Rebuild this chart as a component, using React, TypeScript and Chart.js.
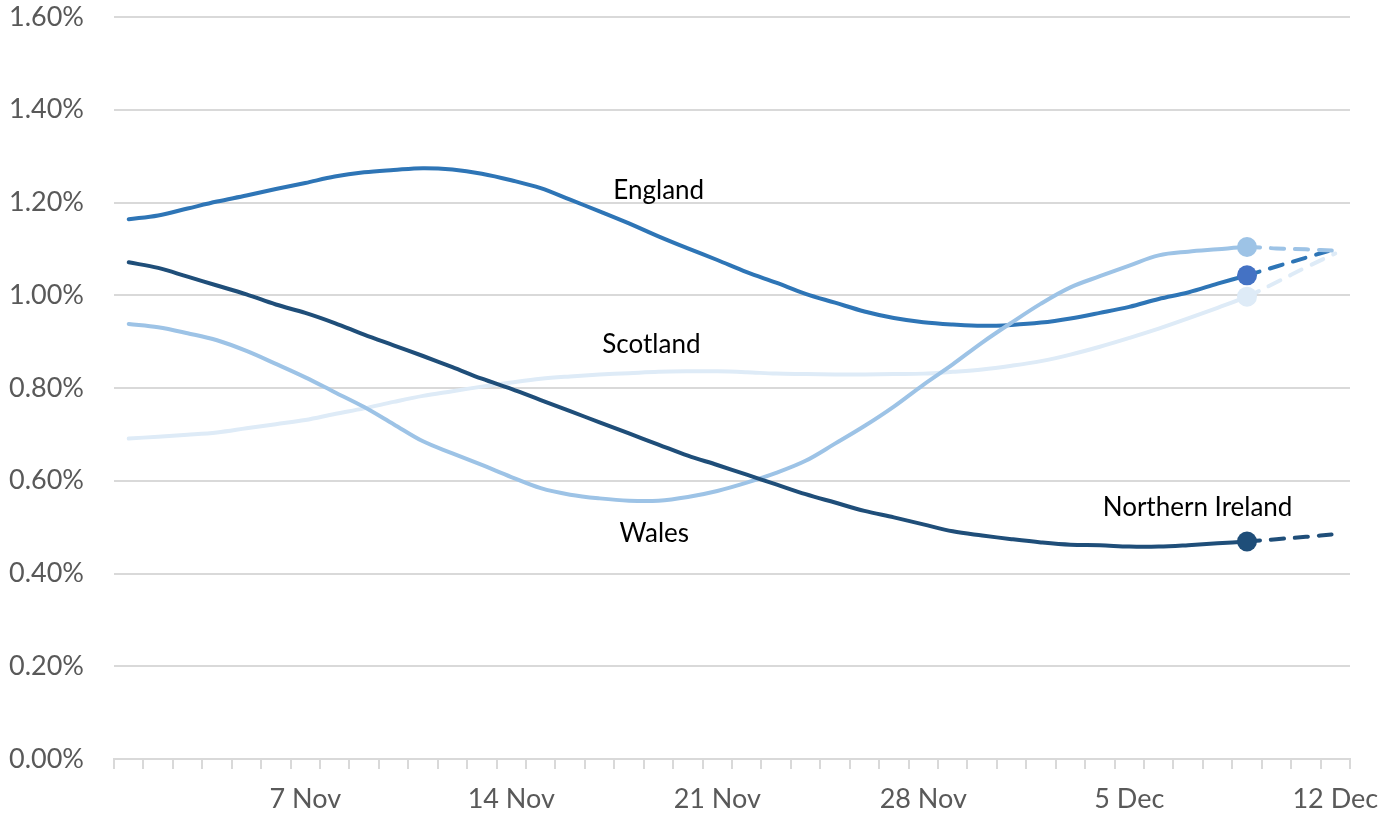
import React, { useEffect, useRef } from "react";
import { Chart, registerables } from "chart.js";

Chart.register(...registerables);

// ---- Data ----
const categories = [
  "1 Nov", "2 Nov", "3 Nov", "4 Nov", "5 Nov", "6 Nov", "7 Nov", "8 Nov", "9 Nov", "10 Nov",
  "11 Nov", "12 Nov", "13 Nov", "14 Nov", "15 Nov", "16 Nov", "17 Nov", "18 Nov", "19 Nov", "20 Nov",
  "21 Nov", "22 Nov", "23 Nov", "24 Nov", "25 Nov", "26 Nov", "27 Nov", "28 Nov", "29 Nov", "30 Nov",
  "1 Dec", "2 Dec", "3 Dec", "4 Dec", "5 Dec", "6 Dec", "7 Dec", "8 Dec", "9 Dec", "10 Dec",
  "11 Dec", "12 Dec",
];
const shownTickLabels = ["7 Nov", "14 Nov", "21 Nov", "28 Nov", "5 Dec", "12 Dec"];
const lastObservedIndex = 38; // after this the lines are dashed projections

const england = [
  1.164, 1.172, 1.187, 1.202, 1.215, 1.229, 1.242, 1.256, 1.265, 1.270,
  1.274, 1.271, 1.262, 1.248, 1.231, 1.206, 1.181, 1.155, 1.127, 1.101,
  1.076, 1.050, 1.027, 1.003, 0.984, 0.965, 0.951, 0.942, 0.937, 0.934,
  0.936, 0.941, 0.950, 0.962, 0.975, 0.992, 1.006, 1.025, 1.043, 1.062,
  1.081, 1.100,
];
const wales = [
  0.938, 0.931, 0.918, 0.903, 0.880, 0.852, 0.823, 0.791, 0.759, 0.722,
  0.685, 0.659, 0.634, 0.608, 0.584, 0.570, 0.562, 0.557, 0.557, 0.565,
  0.578, 0.596, 0.617, 0.643, 0.680, 0.718, 0.760, 0.807, 0.851, 0.898,
  0.941, 0.982, 1.017, 1.041, 1.064, 1.086, 1.094, 1.099, 1.104, 1.101,
  1.099, 1.096,
];
const scotland = [
  0.691, 0.695, 0.699, 0.704, 0.713, 0.722, 0.731, 0.744, 0.756, 0.770,
  0.783, 0.793, 0.803, 0.812, 0.820, 0.825, 0.829, 0.832, 0.835, 0.836,
  0.836, 0.834, 0.831, 0.830, 0.829, 0.829, 0.830, 0.831, 0.835, 0.840,
  0.848, 0.858, 0.872, 0.889, 0.908, 0.928, 0.950, 0.973, 0.997, 1.028,
  1.060, 1.090,
];
const northernIreland = [
  1.071, 1.059, 1.040, 1.021, 1.002, 0.980, 0.962, 0.940, 0.915, 0.892,
  0.869, 0.845, 0.820, 0.798, 0.774, 0.750, 0.726, 0.702, 0.678, 0.654,
  0.634, 0.613, 0.592, 0.571, 0.553, 0.535, 0.521, 0.506, 0.491, 0.482,
  0.474, 0.467, 0.462, 0.461, 0.458, 0.458, 0.461, 0.465, 0.469, 0.474,
  0.479, 0.485,
];

const seriesNames = ["England", "Wales", "Scotland", "Northern Ireland"];
const seriesColors = ["#2E75B6", "#9DC3E6", "#DEEBF7", "#1F4E79"];
const pointColors = ["#4472C4", "#9DC3E6", "#DEEBF7", "#1F4E79"];
const seriesOrder = [3, 2, 4, 1];

// in-chart series labels (category position, value)
const labelTexts = ["England", "Scotland", "Wales", "Northern Ireland"];
const labelCategory = [18.01, 17.76, 17.86, 36.32];
const labelValue = [1.225, 0.894, 0.487, 0.542];

const yMin = 0;
const yMax = 1.6;
const yStep = 0.2;

const FONT = "Lato, 'Open Sans', sans-serif";

const seriesLabelPlugin = {
  id: "seriesLabels",
  afterDatasetsDraw(chart: any) {
    const { ctx } = chart;
    const x = chart.scales.x;
    const y = chart.scales.y;
    ctx.save();
    ctx.font = `26px ${FONT}`;
    ctx.fillStyle = "#000000";
    ctx.textAlign = "center";
    ctx.textBaseline = "middle";
    labelTexts.forEach((t, i) => {
      ctx.fillText(t, x.getPixelForValue(labelCategory[i]), y.getPixelForValue(labelValue[i]));
    });
    ctx.restore();
  },
};

export default function App() {
  const canvasRef = useRef<HTMLCanvasElement | null>(null);

  useEffect(() => {
    if (!canvasRef.current) return;
    const allSeries = [england, wales, scotland, northernIreland];
    const chart = new Chart(canvasRef.current, {
      type: "line",
      data: {
        labels: categories,
        datasets: allSeries.map((d, i) => ({
          label: seriesNames[i],
          data: d,
          borderColor: seriesColors[i],
          backgroundColor: pointColors[i],
          borderWidth: 4,
          tension: 0.35,
          fill: false,
          order: seriesOrder[i],
          borderCapStyle: "round" as const,
          borderJoinStyle: "round" as const,
          pointRadius: (ctx: any) => (ctx.dataIndex === lastObservedIndex ? 10 : 0),
          pointHoverRadius: 0,
          pointBorderWidth: 0,
          pointBackgroundColor: pointColors[i],
          pointBorderColor: pointColors[i],
          segment: {
            borderDash: (ctx: any) => (ctx.p0DataIndex >= lastObservedIndex ? [13, 11] : undefined),
          },
        })),
      },
      options: {
        animation: false,
        responsive: false,
        maintainAspectRatio: false,
        events: [],
        layout: { padding: { top: 17, right: 31, left: 0, bottom: 0 } },
        plugins: {
          legend: { display: false },
          tooltip: { enabled: false },
          title: { display: false },
        },
        scales: {
          x: {
            type: "category",
            offset: true,
            grid: {
              display: true,
              drawOnChartArea: false,
              drawTicks: true,
              tickLength: 10,
              offset: true,
              color: "#D9D9D9",
              lineWidth: 2,
            },
            border: { display: true, color: "#D9D9D9", width: 2 },
            ticks: {
              autoSkip: false,
              maxRotation: 0,
              minRotation: 0,
              padding: 14,
              color: "#595959",
              font: { family: FONT, size: 27 },
              callback: (_v: any, idx: number) =>
                shownTickLabels.includes(categories[idx]) ? categories[idx] : "",
            },
            afterFit: (scale: any) => {
              scale.height = 57;
              scale.paddingLeft = 0;
              scale.paddingRight = 0;
            },
          },
          y: {
            min: yMin,
            max: yMax,
            grid: { color: "#D9D9D9", lineWidth: 2, drawTicks: false },
            border: { display: false },
            ticks: {
              stepSize: yStep,
              padding: 30,
              color: "#595959",
              font: { family: FONT, size: 27 },
              callback: (v: any) => Number(v).toFixed(2) + "%",
            },
            afterFit: (scale: any) => {
              scale.width = 114;
              scale.paddingTop = 0;
              scale.paddingBottom = 0;
            },
          },
        },
      },
      plugins: [seriesLabelPlugin],
    });
    return () => chart.destroy();
  }, []);

  return (
    <div style={{ position: "fixed", left: 0, top: 0, width: 1381, height: 816, background: "#ffffff" }}>
      <canvas ref={canvasRef} width={1381} height={816} style={{ display: "block" }} />
    </div>
  );
}
